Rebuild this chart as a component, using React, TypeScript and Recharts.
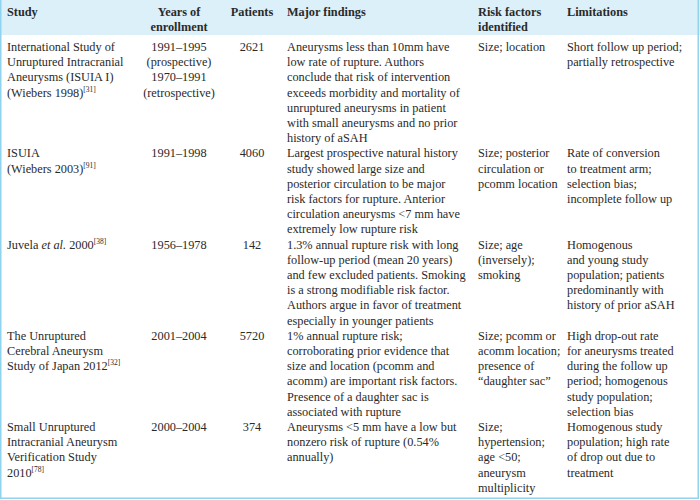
import React from 'react';
import { Surface, Layer, Rectangle, Text } from 'recharts';

// header cells, one list of lines per column
const headerLines: string[][] = [
  ['Study'],
  ['Years of', 'enrollment'],
  ['Patients'],
  ['Major findings'],
  ['Risk factors', 'identified'],
  ['Limitations'],
];

// ^[..] = superscript ref, _.._ = italic
const studyNames: string[][] = [
  ['International Study of', 'Unruptured Intracranial', 'Aneurysms (ISUIA I)', '(Wiebers 1998)^[31]'],
  ['ISUIA', '(Wiebers 2003)^[91]'],
  ['Juvela _et al._ 2000^[38]'],
  ['The Unruptured', 'Cerebral Aneurysm', 'Study of Japan 2012^[32]'],
  ['Small Unruptured', 'Intracranial Aneurysm', 'Verification Study', '2010^[78]'],
];

const enrollmentYears: string[][] = [
  ['1991–1995', '(prospective)', '1970–1991', '(retrospective)'],
  ['1991–1998'],
  ['1956–1978'],
  ['2001–2004'],
  ['2000–2004'],
];

const patientCounts: number[] = [2621, 4060, 142, 5720, 374];

const majorFindings: string[][] = [
  [
    'Aneurysms less than 10mm have',
    'low rate of rupture. Authors',
    'conclude that risk of intervention',
    'exceeds morbidity and mortality of',
    'unruptured aneurysms in patient',
    'with small aneurysms and no prior',
    'history of aSAH',
  ],
  [
    'Largest prospective natural history',
    'study showed large size and',
    'posterior circulation to be major',
    'risk factors for rupture. Anterior',
    'circulation aneurysms <7 mm have',
    'extremely low rupture risk',
  ],
  [
    '1.3% annual rupture risk with long',
    'follow-up period (mean 20 years)',
    'and few excluded patients. Smoking',
    'is a strong modifiable risk factor.',
    'Authors argue in favor of treatment',
    'especially in younger patients',
  ],
  [
    '1% annual rupture risk;',
    'corroborating prior evidence that',
    'size and location (pcomm and',
    'acomm) are important risk factors.',
    'Presence of a daughter sac is',
    'associated with rupture',
  ],
  [
    'Aneurysms <5 mm have a low but',
    'nonzero risk of rupture (0.54%',
    'annually)',
  ],
];

const riskFactors: string[][] = [
  ['Size; location'],
  ['Size; posterior', 'circulation or', 'pcomm location'],
  ['Size; age', '(inversely);', 'smoking'],
  ['Size; pcomm or', 'acomm location;', 'presence of', '“daughter sac”'],
  ['Size;', 'hypertension;', 'age <50;', 'aneurysm', 'multiplicity'],
];

const limitations: string[][] = [
  ['Short follow up period;', 'partially retrospective'],
  ['Rate of conversion', 'to treatment arm;', 'selection bias;', 'incomplete follow up'],
  ['Homogenous', 'and young study', 'population; patients', 'predominantly with', 'history of prior aSAH'],
  ['High drop-out rate', 'for aneurysms treated', 'during the follow up', 'period; homogenous', 'study population;', 'selection bias'],
  ['Homogenous study', 'population; high rate', 'of drop out due to', 'treatment'],
];

const W = 700;
const H = 500;
const FONT = '"Liberation Serif", "Times New Roman", serif';
const SIZE = 12.3;
const TEXT = '#2a2a2a';
const BORDER = '#8fd3ef';
const HEAD_BG = '#dcf0f9';
const LINE = 15.2;
const BODY_TOP = 51;

const columns: { x: number; anchor: 'start' | 'middle' }[] = [
  { x: 7, anchor: 'start' },
  { x: 179, anchor: 'middle' },
  { x: 252, anchor: 'middle' },
  { x: 287, anchor: 'start' },
  { x: 478, anchor: 'start' },
  { x: 567, anchor: 'start' },
];

// split a line into plain / italic / superscript pieces
const parts = (s: string) => {
  const out: { t: string; kind: 'n' | 'i' | 's' }[] = [];
  const re = /(\^\[[^\]]+\])|(_[^_]+_)/g;
  let last = 0;
  let m: RegExpExecArray | null;
  while ((m = re.exec(s))) {
    if (m.index > last) out.push({ t: s.slice(last, m.index), kind: 'n' });
    if (m[1]) out.push({ t: m[1].slice(1), kind: 's' });
    else out.push({ t: m[2].slice(1, -1), kind: 'i' });
    last = m.index + m[0].length;
  }
  if (last < s.length) out.push({ t: s.slice(last), kind: 'n' });
  return out;
};

const Line = ({ x, y, anchor, text, bold }: { x: number; y: number; anchor: 'start' | 'middle'; text: string; bold?: boolean }) => {
  if (!/[\^_]/.test(text)) {
    return (
      <Text x={x} y={y} textAnchor={anchor} fontFamily={FONT} fontSize={SIZE} fontWeight={bold ? 700 : 400} fill={TEXT}>
        {text}
      </Text>
    );
  }
  return (
    <text x={x} y={y} textAnchor={anchor} fontFamily={FONT} fontSize={SIZE} fill={TEXT} style={{ whiteSpace: 'pre' }}>
      {parts(text).map((p, i) =>
        p.kind === 's' ? (
          <tspan key={i} fontSize={7.5} baselineShift="5">{p.t}</tspan>
        ) : (
          <tspan key={i} fontStyle={p.kind === 'i' ? 'italic' : 'normal'}>{p.t}</tspan>
        )
      )}
    </text>
  );
};

export default function App() {
  const rows = studyNames.map((_, r) => [
    studyNames[r],
    enrollmentYears[r],
    [String(patientCounts[r])],
    majorFindings[r],
    riskFactors[r],
    limitations[r],
  ]);

  let cursor = 0;
  const rowStarts = rows.map((cells) => {
    const start = cursor;
    cursor += Math.max(...cells.map((c) => c.length));
    return start;
  });

  return (
    <div style={{ position: 'absolute', left: 0, top: 0, width: W, height: H, background: '#fff' }}>
      <Surface width={W} height={H}>
        <Rectangle x={0} y={0} width={W} height={35} fill={HEAD_BG} />
        <Rectangle x={0} y={0} width={1.5} height={499} fill={BORDER} />
        <Rectangle x={697.5} y={0} width={1.5} height={499} fill={BORDER} />
        <Rectangle x={0} y={497.5} width={699} height={1.5} fill={BORDER} />

        <Layer className="header">
          {headerLines.map((lines, c) =>
            lines.map((t, k) => (
              <Line key={`h${c}-${k}`} x={columns[c].x} y={16 + k * 15} anchor={columns[c].anchor} text={t} bold />
            ))
          )}
        </Layer>

        <Layer className="body">
          {rows.map((cells, r) =>
            cells.map((lines, c) =>
              lines.map((t, k) => (
                <Line
                  key={`r${r}-${c}-${k}`}
                  x={columns[c].x}
                  y={BODY_TOP + (rowStarts[r] + k) * LINE}
                  anchor={columns[c].anchor}
                  text={t}
                />
              ))
            )
          )}
        </Layer>
      </Surface>
    </div>
  );
}
